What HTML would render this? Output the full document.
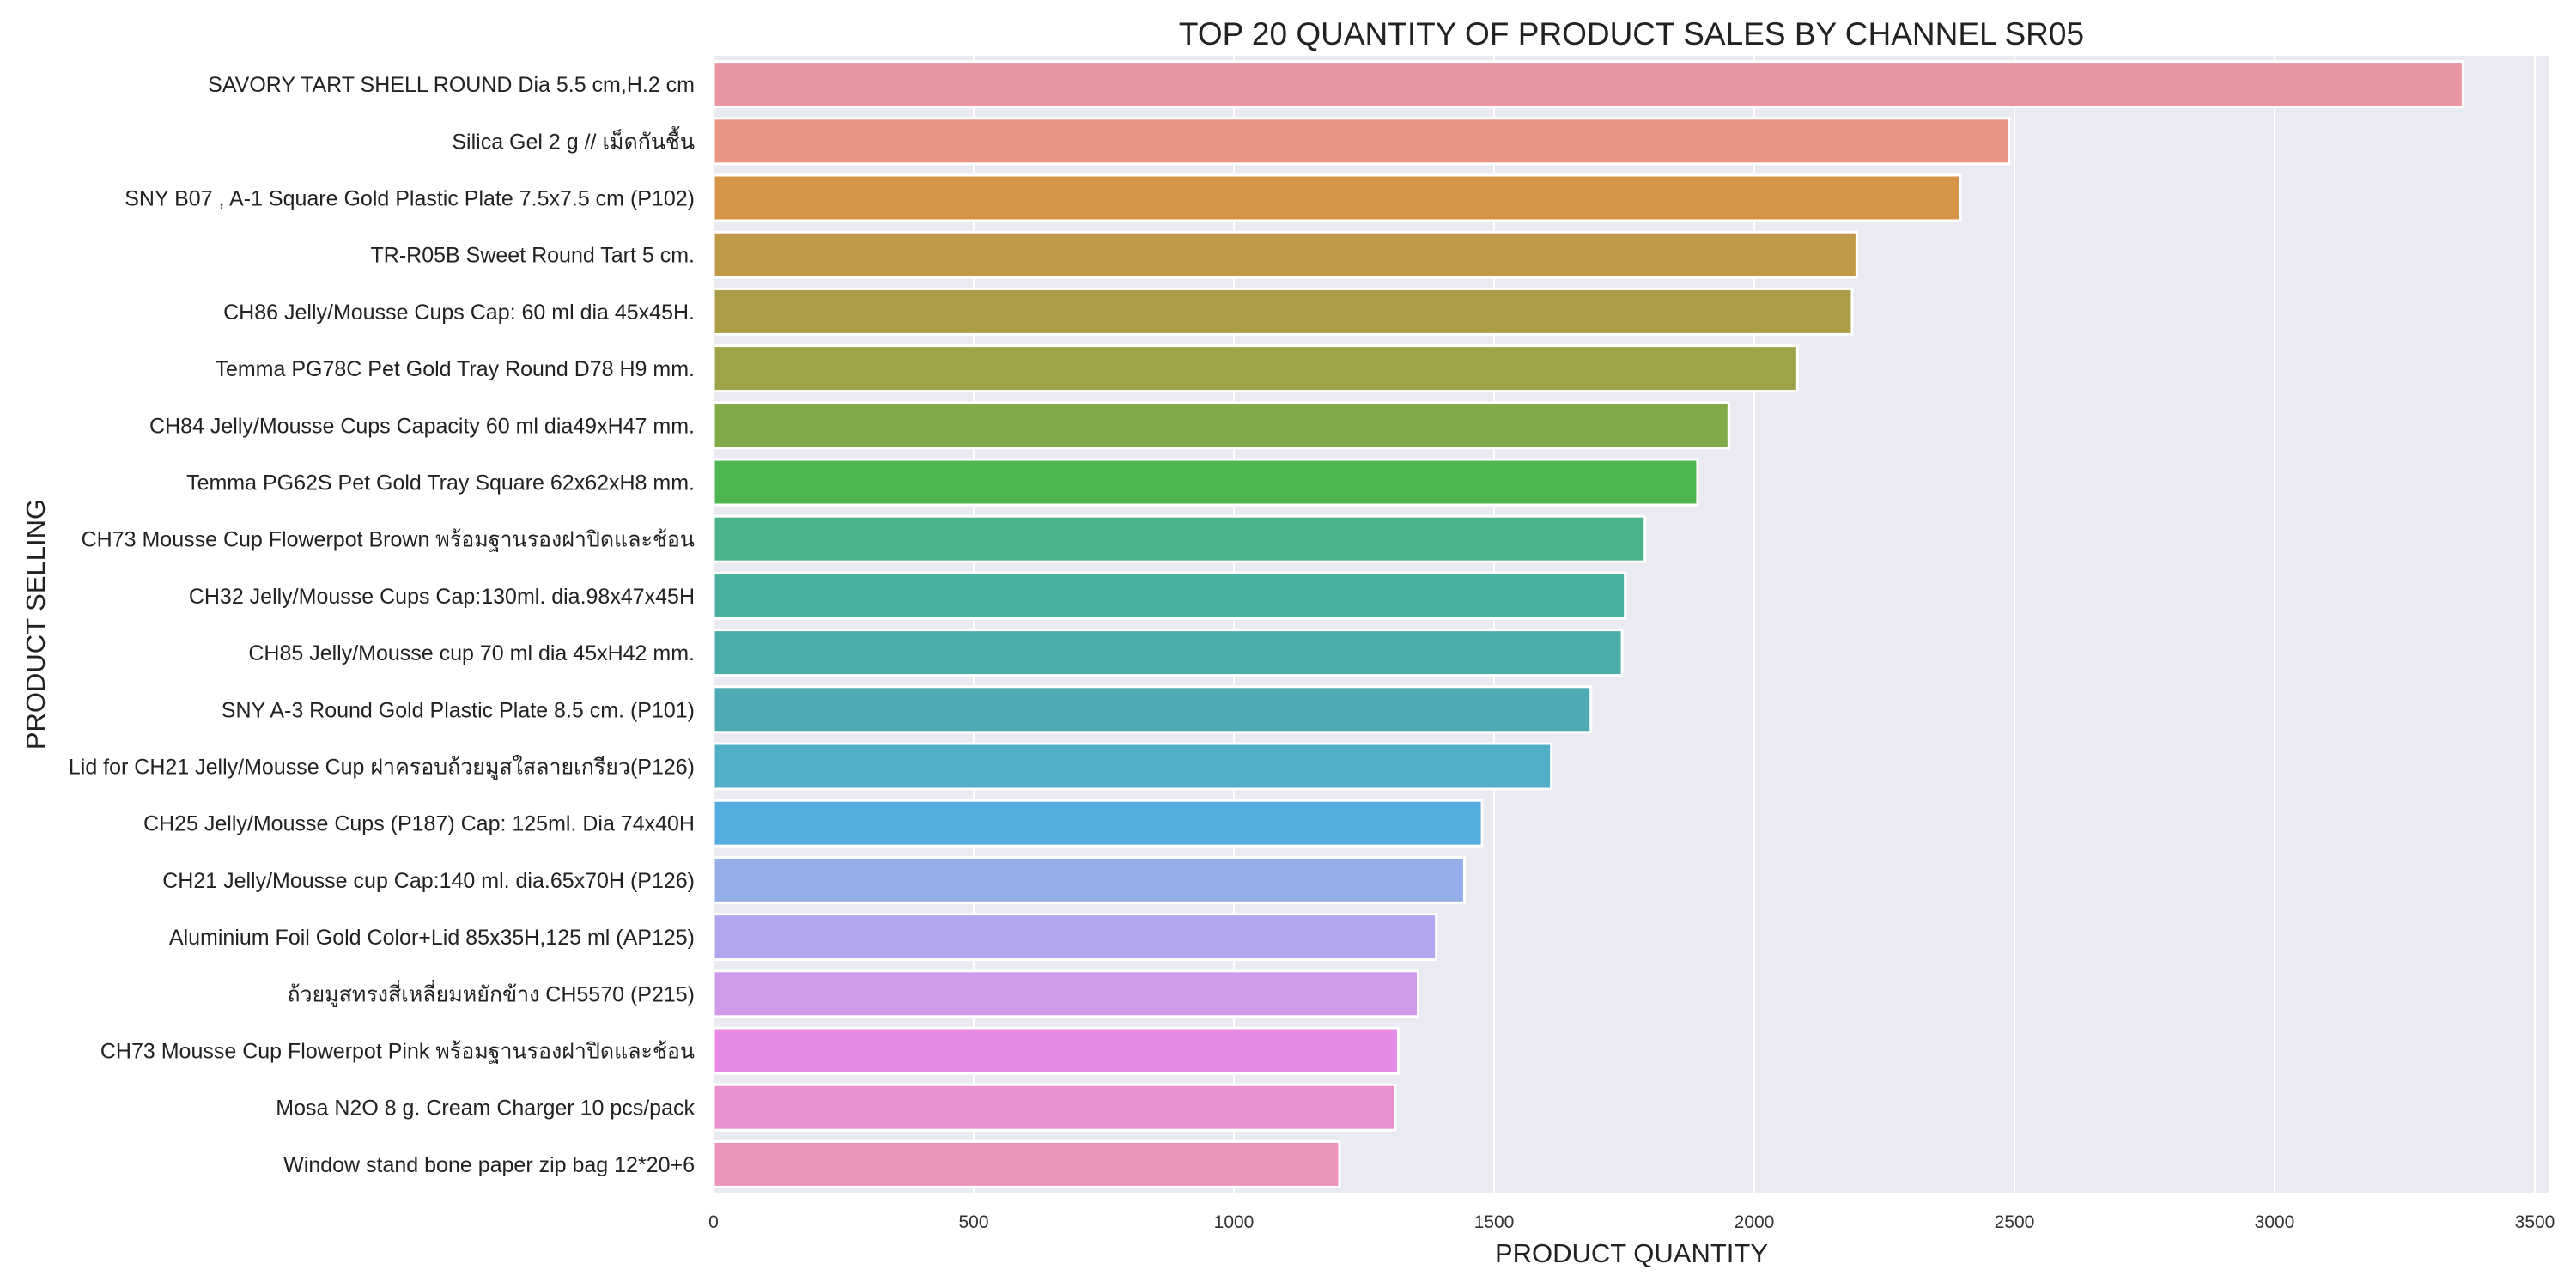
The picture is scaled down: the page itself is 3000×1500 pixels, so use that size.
<!DOCTYPE html>
<html><head><meta charset="utf-8"><style>
html,body{margin:0;padding:0;background:#fff;}
svg{display:block;font-family:"Liberation Sans","Noto Sans CJK SC",sans-serif;}
</style></head><body>
<svg id="chart" width="3000" height="1500" viewBox="0 0 3000 1500"></svg>
<script>
const categories = [
"SAVORY TART SHELL ROUND Dia 5.5 cm,H.2 cm",
"Silica Gel 2 g // เม็ดกันชื้น",
"SNY B07 , A-1 Square Gold Plastic Plate 7.5x7.5 cm (P102)",
"TR-R05B Sweet Round Tart 5 cm.",
"CH86 Jelly/Mousse Cups Cap: 60 ml dia 45x45H.",
"Temma PG78C Pet Gold Tray Round D78 H9 mm.",
"CH84 Jelly/Mousse Cups Capacity 60 ml dia49xH47 mm.",
"Temma PG62S Pet Gold Tray Square 62x62xH8 mm.",
"CH73 Mousse Cup Flowerpot Brown พร้อมฐานรองฝาปิดและช้อน",
"CH32 Jelly/Mousse Cups Cap:130ml. dia.98x47x45H",
"CH85 Jelly/Mousse cup 70 ml dia 45xH42 mm.",
"SNY A-3 Round Gold Plastic Plate 8.5 cm. (P101)",
"Lid for CH21 Jelly/Mousse Cup ฝาครอบถ้วยมูสใสลายเกรียว(P126)",
"CH25  Jelly/Mousse Cups (P187) Cap: 125ml. Dia 74x40H",
"CH21  Jelly/Mousse cup Cap:140 ml. dia.65x70H (P126)",
"Aluminium Foil Gold Color+Lid 85x35H,125 ml (AP125)",
"ถ้วยมูสทรงสี่เหลี่ยมหยักข้าง CH5570 (P215)",
"CH73 Mousse Cup Flowerpot Pink พร้อมฐานรองฝาปิดและช้อน",
"Mosa N2O 8 g. Cream Charger 10 pcs/pack",
"Window stand bone paper zip bag 12*20+6"
];
const quantities = [3362,2490,2396,2197,2188,2083,1951,1891,1790,1752,1746,1686,1610,1477,1443,1389,1354,1316,1310,1203];
const xTicks = [0,500,1000,1500,2000,2500,3000,3500];
const colors = ["#ea96a2","#e89582","#d69448","#c09a48","#ab9d48","#9ea248","#80ab48","#4db650","#4bb38b","#4ab19e","#4badaa","#4daab4","#51aec7","#55acdf","#95aee7","#b3a6ee","#cf9ae8","#e68ae5","#e990cf","#ea93bb"];

const NS="http://www.w3.org/2000/svg";
const svg=document.getElementById('chart');
const L=831, R=2969, T=65, B=1389;
function xs(v){return L+v*((2952-831)/3500);}
const band=(B-T)/categories.length;
function yc(i){return T+band*(i+0.5);}
function mk(tag,attrs,parent){const e=document.createElementNS(NS,tag);for(const k in attrs)e.setAttribute(k,attrs[k]);(parent||svg).appendChild(e);return e;}

let bg=mk('rect',{x:L,y:T,width:R-L,height:B-T,fill:'#eaeaf2'});



xTicks.forEach(t=>{
  let g=mk('line',{x1:xs(t),x2:xs(t),y1:T,y2:B,stroke:'#fff','stroke-width':2});
  
  
  let tl=mk('text',{x:xs(t),y:1430,'text-anchor':'middle','font-size':21,fill:'#333'});
  tl.textContent=t;
  
  
});

const bh=band*0.8;
quantities.forEach((q,i)=>{
  let r=mk('rect',{x:xs(0),y:yc(i)-bh/2,width:xs(q)-xs(0),height:bh,fill:colors[i],stroke:'#fff','stroke-width':3});
  
  
  let t=mk('text',{x:809,y:yc(i)+9,'text-anchor':'end','font-size':25,fill:'#222'});
  t.textContent=categories[i];
  
  
});

let title=mk('text',{x:1900,y:52,'text-anchor':'middle','font-size':37,fill:'#222'});
title.textContent='TOP 20 QUANTITY OF PRODUCT SALES BY CHANNEL SR05';



let xl=mk('text',{x:1900,y:1470,'text-anchor':'middle','font-size':31,fill:'#222'});
xl.textContent='PRODUCT QUANTITY';



let yl=mk('text',{x:0,y:0,'text-anchor':'middle','font-size':31,fill:'#222',transform:'translate(52,727) rotate(-90)'});
yl.textContent='PRODUCT SELLING';


</script>
</body></html>
